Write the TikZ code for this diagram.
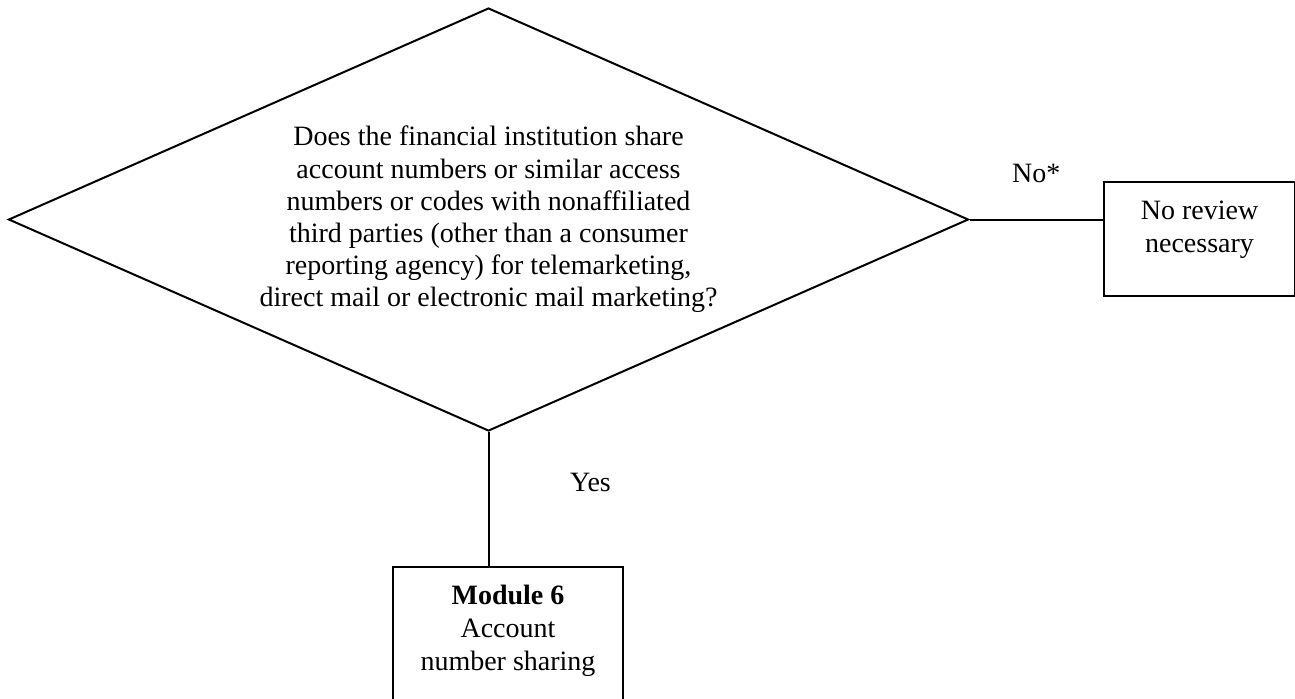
\documentclass[tikz,border=0pt]{standalone}
\usepackage{fontspec}
\setmainfont{Liberation Serif}
\usetikzlibrary{shapes.geometric, positioning}

\begin{document}
\begin{tikzpicture}[
        x=0.5pt, y=-0.5pt,
        font=\fontsize{14}{16.1}\selectfont,
        question/.style={diamond, draw=black, line width=1pt, minimum width=480pt, minimum height=211.5pt, shape aspect=2.27, inner sep=0pt, align=center},
        % Style for the two end boxes (text sits near the top edge)
        outcome/.style={rectangle, draw=black, line width=1pt, inner sep=0pt, align=center,
            font=\fontsize{14}{16.6}\selectfont
        },
        link/.style={draw=black, line width=1pt}
    ]
        \useasboundingbox (0,0) rectangle (1295,698);

        % The question
        \node (q) [question] at (488.5,219.5) {Does the financial institution share\\account numbers or similar access\\numbers or codes with nonaffiliated\\third parties (other than a consumer\\reporting agency) for telemarketing,\\direct mail or electronic mail marketing?};

        % The two answers
        \node (noreview) [outcome, minimum width=95.5pt, text height=35.1pt, text depth=21.9pt, right=66.75pt of q.east, yshift=-9.75pt] {No review\\necessary};
        \node (module) [outcome, minimum width=115pt, text height=51.7pt, text depth=16.8pt, below=67pt of q.south, xshift=9.75pt] {\textbf{Module 6}\\Account\\number sharing};

        % Connectors
        \draw [link] (q.east) -- (q.east -| noreview.west) node [midway, anchor=base, yshift=18.5pt] {No*};
        \draw [link] (q.south) -- (q.south |- module.north) node [midway, anchor=base, xshift=51pt, yshift=4pt] {Yes};
\end{tikzpicture}
\end{document}
